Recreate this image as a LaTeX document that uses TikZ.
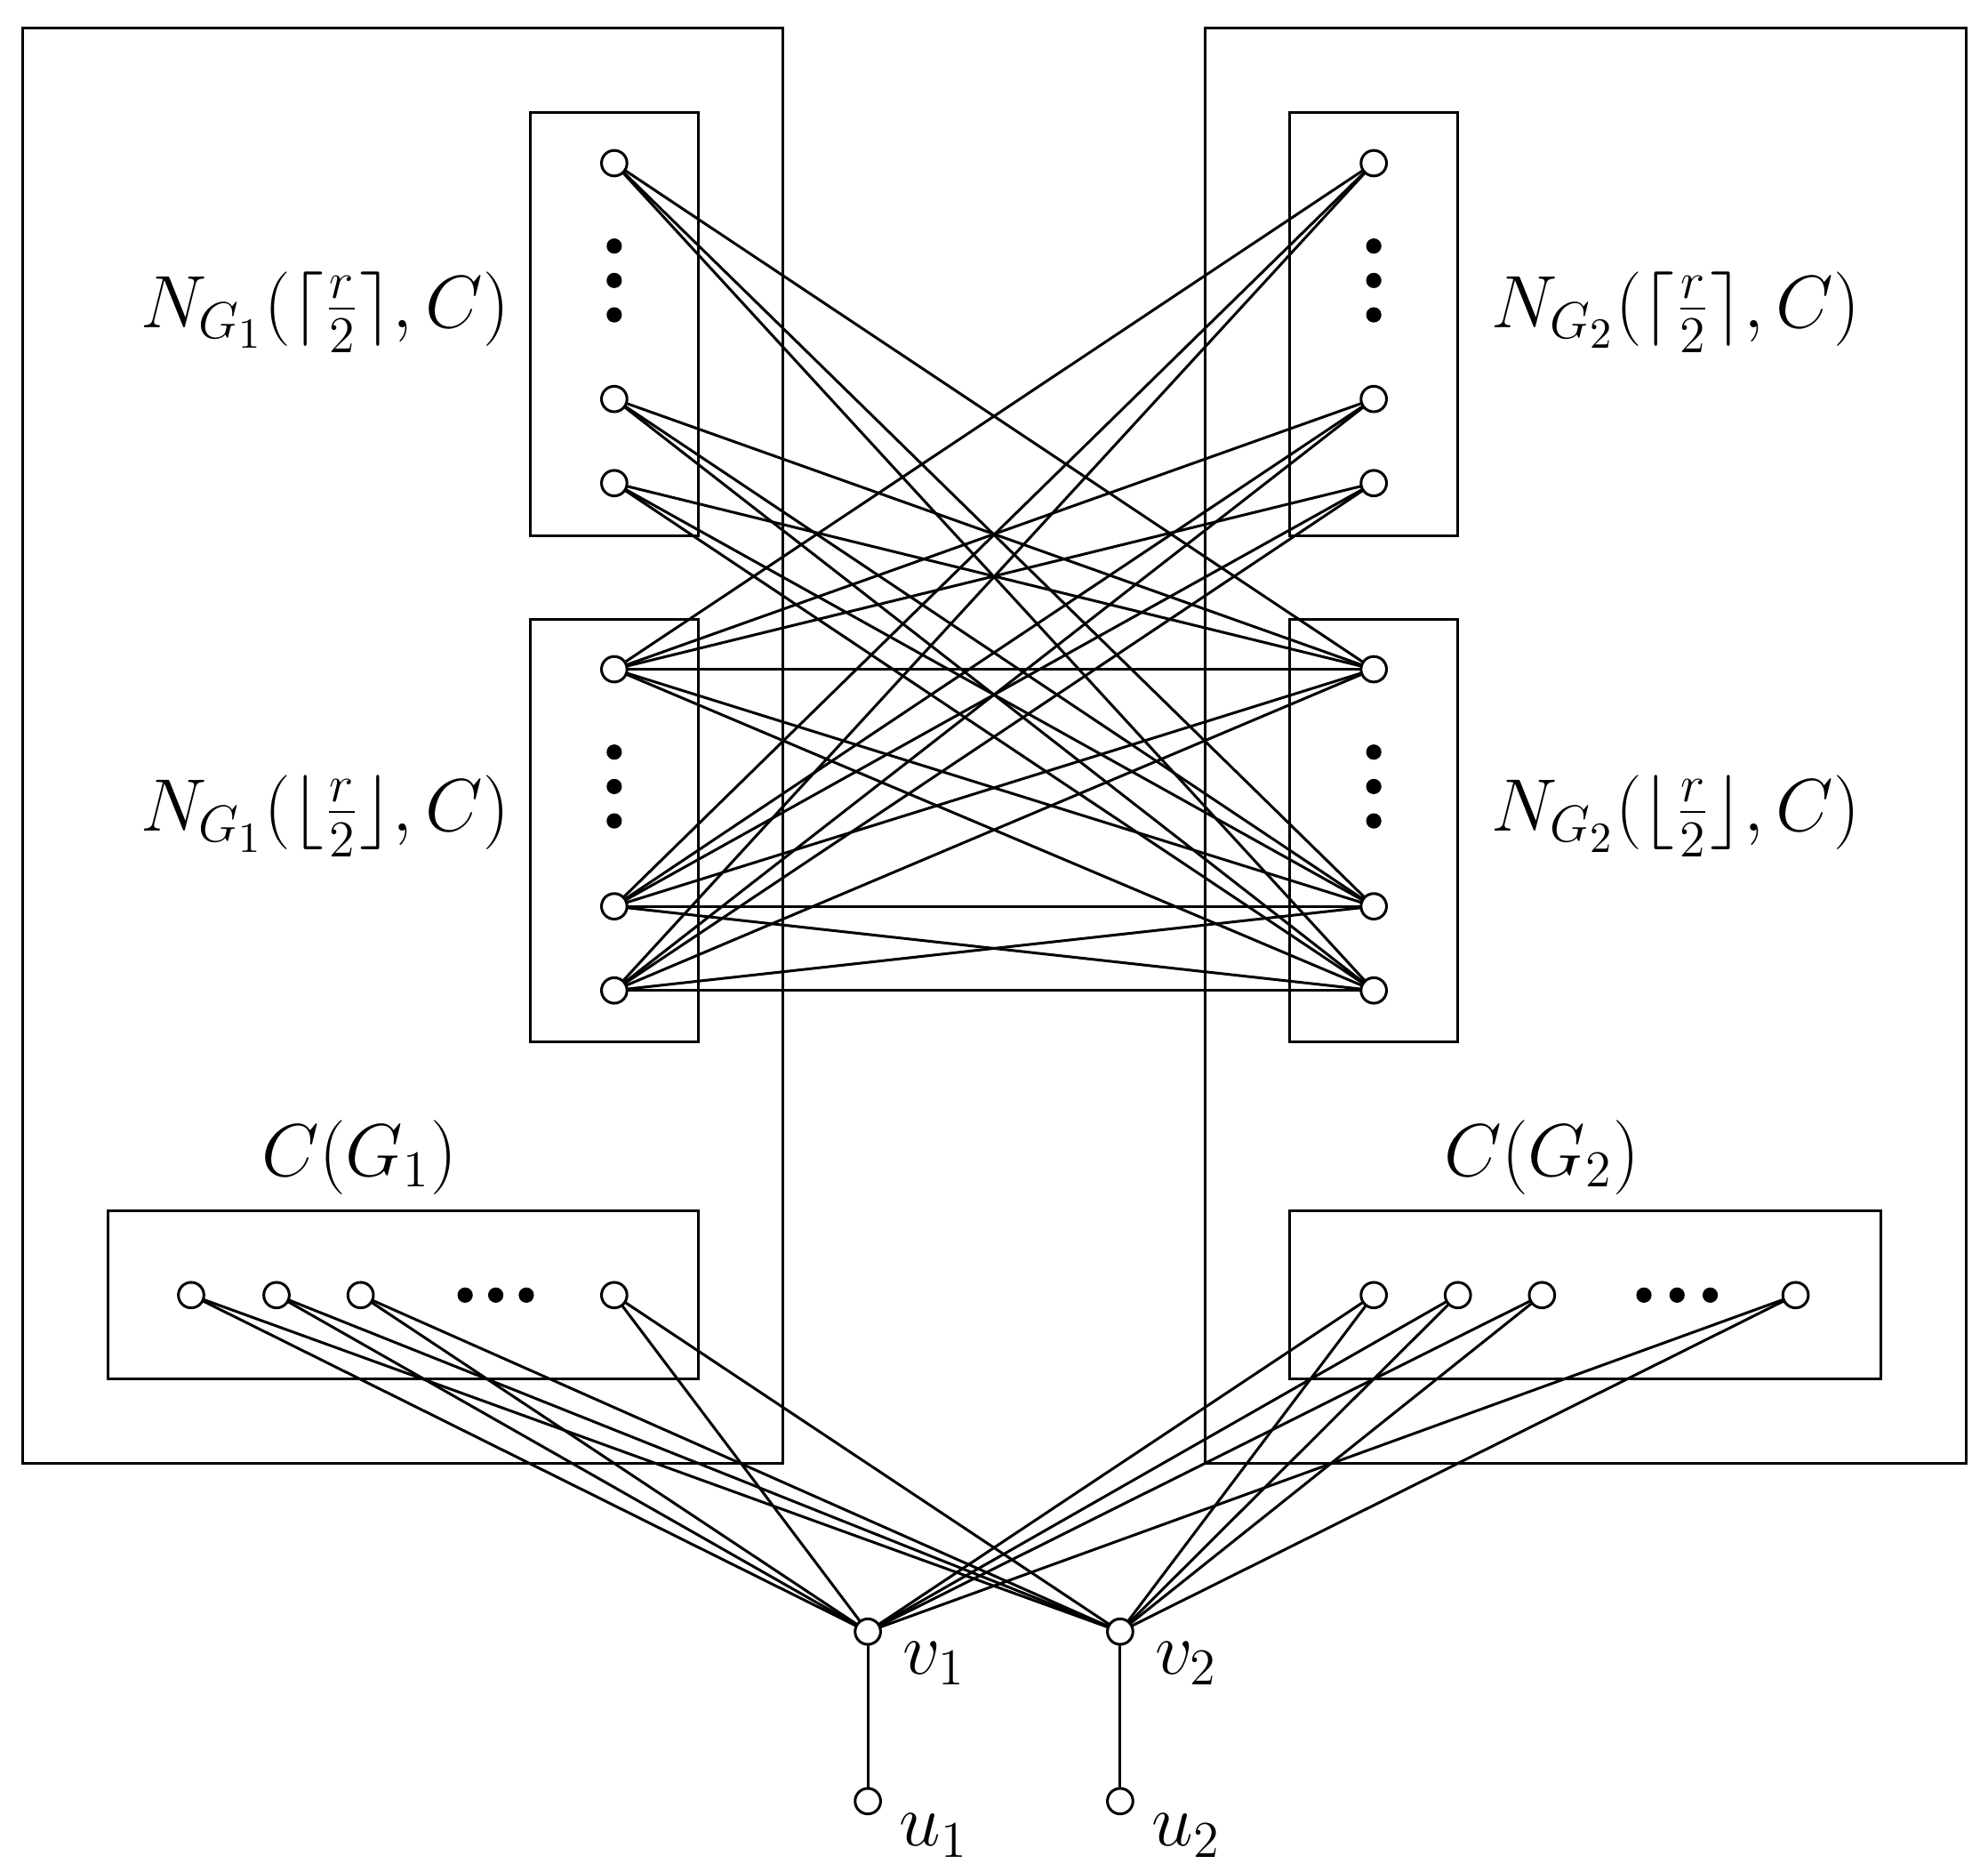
\documentclass[tikz,border=0pt]{standalone}
\begin{document}
\begin{tikzpicture}[x=0.01cm,y=-0.01cm,
  vtx/.style={circle,draw,fill=white,inner sep=0pt,minimum size=0.2cm,line width=0.6pt},
  dotv/.style={circle,fill=black,inner sep=0pt,minimum size=0.12cm},
  box/.style={draw,line width=0.6pt},
  lab/.style={font=\LARGE,scale=0.96},
  edge/.style={line width=0.6pt}]
\useasboundingbox (0,0) rectangle (1560,1462);
\draw[box] (18,22) rectangle (614,1148);
\draw[box] (946,22) rectangle (1543,1148);
\draw[box] (416,88) rectangle (548,420);
\draw[box] (416,486) rectangle (548,817);
\draw[box] (1012,88) rectangle (1144,420);
\draw[box] (1012,486) rectangle (1144,817);
\draw[box] (85,950) rectangle (548,1082);
\draw[box] (1012,950) rectangle (1476,1082);
\foreach \n/\y in {1/128,2/313,3/379,4/525,5/711,6/777}{
  \coordinate (L\n) at (482,\y);
  \coordinate (R\n) at (1078,\y);
}
\foreach \n/\x in {1/150,2/217,3/283,4/482}{\coordinate (CL\n) at (\x,1016);}
\foreach \n/\x in {1/1078,2/1144,3/1210,4/1409}{\coordinate (CR\n) at (\x,1016);}
\coordinate (v1) at (681,1280);
\coordinate (v2) at (879,1280);
\coordinate (u1) at (681,1413);
\coordinate (u2) at (879,1413);
\foreach \i in {1,2,3}{\foreach \j in {4,5,6}{
  \draw[edge] (L\i) -- (R\j); \draw[edge] (L\j) -- (R\i);}}
\foreach \i in {4,5,6}{\foreach \j in {4,5,6}{\draw[edge] (L\i) -- (R\j);}}
\foreach \i in {1,2,3,4}{
  \draw[edge] (CL\i) -- (v1); \draw[edge] (CL\i) -- (v2);
  \draw[edge] (CR\i) -- (v1); \draw[edge] (CR\i) -- (v2);}
\draw[edge] (v1) -- (u1); \draw[edge] (v2) -- (u2);
\foreach \n in {1,...,6}{\node[vtx] at (L\n) {}; \node[vtx] at (R\n) {};}
\foreach \n in {1,...,4}{\node[vtx] at (CL\n) {}; \node[vtx] at (CR\n) {};}
\foreach \p in {v1,v2,u1,u2}{\node[vtx] at (\p) {};}
\foreach \y in {193,220,247,590,617,644}{
  \node[dotv] at (482,\y) {}; \node[dotv] at (1078,\y) {};}
\foreach \x in {365,389,413,1290,1316,1342}{\node[dotv] at (\x,1016) {};}
\node[lab] (t1) at (255,245) {$N_{G_1}(\lceil\frac{r}{2}\rceil,C)$};
\node[lab] (t2) at (255,640) {$N_{G_1}(\lfloor\frac{r}{2}\rfloor,C)$};
\node[lab] (t3) at (1315,245) {$N_{G_2}(\lceil\frac{r}{2}\rceil,C)$};
\node[lab] (t4) at (1315,640) {$N_{G_2}(\lfloor\frac{r}{2}\rfloor,C)$};
\node[lab] (t5) at (282,908) {$C(G_1)$};
\node[lab] (t6) at (1210,908) {$C(G_2)$};
\node[lab] (t7) at (733,1305) {$v_1$};
\node[lab] (t8) at (931,1305) {$v_2$};
\node[lab] (t9) at (733,1440) {$u_1$};
\node[lab] (t10) at (931,1440) {$u_2$};
\end{tikzpicture}
\end{document}
